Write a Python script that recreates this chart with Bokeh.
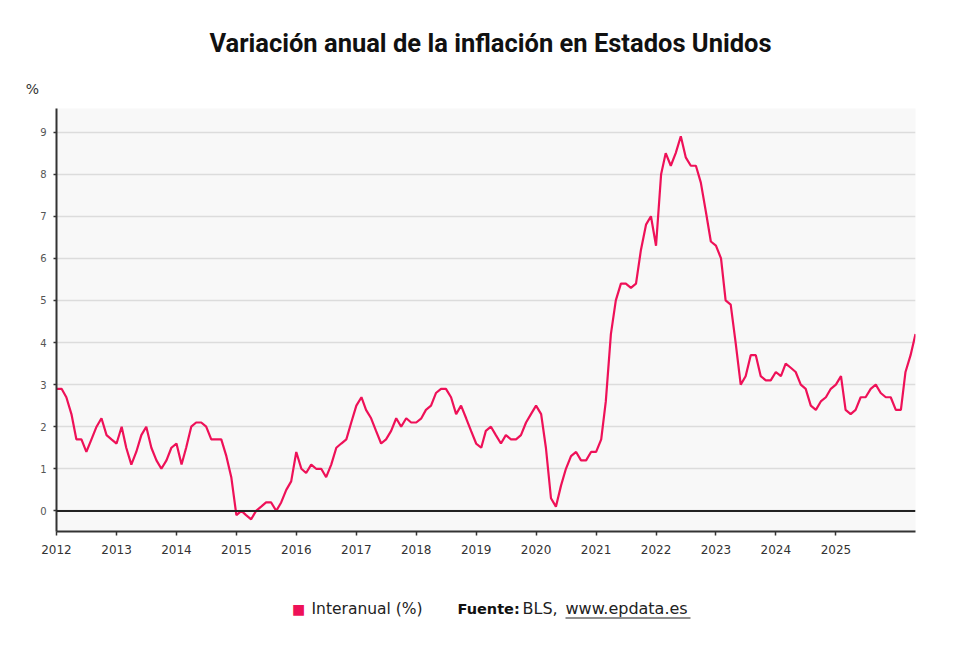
import pandas as pd
from bokeh.plotting import figure
from bokeh.layouts import column
from bokeh.models import (Range1d, FixedTicker, DatetimeTickFormatter, Span, Label,
                          BoxAnnotation, ColumnDataSource)
from bokeh.embed import file_html
from bokeh.resources import INLINE

# ---- data (monthly year-on-year CPI change, %) ----
start_month = "2012-01-01"
values = [
    2.9, 2.9, 2.7, 2.3, 1.7, 1.7, 1.4, 1.7, 2.0, 2.2, 1.8, 1.7,   # 2012
    1.6, 2.0, 1.5, 1.1, 1.4, 1.8, 2.0, 1.5, 1.2, 1.0, 1.2, 1.5,   # 2013
    1.6, 1.1, 1.5, 2.0, 2.1, 2.1, 2.0, 1.7, 1.7, 1.7, 1.3, 0.8,   # 2014
    -0.1, 0.0, -0.1, -0.2, 0.0, 0.1, 0.2, 0.2, 0.0, 0.2, 0.5, 0.7,  # 2015
    1.4, 1.0, 0.9, 1.1, 1.0, 1.0, 0.8, 1.1, 1.5, 1.6, 1.7, 2.1,   # 2016
    2.5, 2.7, 2.4, 2.2, 1.9, 1.6, 1.7, 1.9, 2.2, 2.0, 2.2, 2.1,   # 2017
    2.1, 2.2, 2.4, 2.5, 2.8, 2.9, 2.9, 2.7, 2.3, 2.5, 2.2, 1.9,   # 2018
    1.6, 1.5, 1.9, 2.0, 1.8, 1.6, 1.8, 1.7, 1.7, 1.8, 2.1, 2.3,   # 2019
    2.5, 2.3, 1.5, 0.3, 0.1, 0.6, 1.0, 1.3, 1.4, 1.2, 1.2, 1.4,   # 2020
    1.4, 1.7, 2.6, 4.2, 5.0, 5.4, 5.4, 5.3, 5.4, 6.2, 6.8, 7.0,   # 2021
    6.3, 8.0, 8.5, 8.2, 8.5, 8.9, 8.4, 8.2, 8.2, 7.8, 7.1, 6.4,   # 2022
    6.3, 6.0, 5.0, 4.9, 4.0, 3.0, 3.2, 3.7, 3.7, 3.2, 3.1, 3.1,   # 2023
    3.3, 3.2, 3.5, 3.4, 3.3, 3.0, 2.9, 2.5, 2.4, 2.6, 2.7, 2.9,   # 2024
    3.0, 3.2, 2.4, 2.3, 2.4, 2.7, 2.7, 2.9, 3.0, 2.8, 2.7, 2.7,   # 2025
    2.4, 2.4, 3.3, 3.7, 4.2,                                      # 2026
]
year_ticks = list(range(2012, 2026))
y_ticks = list(range(0, 10))
title_text = "Variación anual de la inflación en Estados Unidos"
series_name = "Interanual (%)"

dates = pd.date_range(start_month, periods=len(values), freq="MS")
source = ColumnDataSource(data=dict(date=dates, value=values))

LINE = "#ee1158"
W = 964
H_HEAD, H_MAIN, H_FOOT = 108, 463, 66
FL = 56

def blank(h):
    f = figure(width=W, height=h, x_range=Range1d(0, W), y_range=Range1d(0, h),
               x_axis_type=None, y_axis_type=None, output_backend="svg",
               toolbar_location=None, min_border=0, frame_align=False)
    f.outline_line_color = None
    f.xgrid.grid_line_color = None
    f.ygrid.grid_line_color = None
    f.background_fill_color = "white"
    f.border_fill_color = "white"
    return f

def lab(f, h, px, py, text, size, color="#222222", style="normal", align="left",
        font="DejaVu Sans"):
    f.add_layout(Label(x=px, y=h - py, text=text, text_font=font, text_font_size=size,
                       text_color=color, text_font_style=style, text_align=align,
                       text_baseline="middle"))

# ---- header ----
head = blank(H_HEAD)
lab(head, H_HEAD, 490, 42, title_text, "25.5px", "#111111", "bold", "center", "Roboto")
lab(head, H_HEAD, 32, 88, "%", "14px", "#333333", align="center")

# ---- main chart ----
p = figure(width=W, height=H_MAIN, x_axis_type="datetime", output_backend="svg",
           toolbar_location=None, frame_align=False,
           x_range=Range1d(dates[0], dates[-1]), y_range=Range1d(-0.49, 9.56),
           min_border_left=FL, min_border_right=W - 915, min_border_top=0,
           min_border_bottom=40)
p.outline_line_color = None
p.background_fill_color = "#f8f8f8"
p.border_fill_color = "white"

p.xaxis.ticker = FixedTicker(ticks=[pd.Timestamp(f"{y}-01-01").value / 1e6 for y in year_ticks])
p.xaxis.formatter = DatetimeTickFormatter(years="%Y", months="%Y", days="%Y")
p.yaxis.ticker = FixedTicker(ticks=y_ticks)
for ax in (p.xaxis[0], p.yaxis[0]):
    ax.axis_line_color = "#333333"
    ax.axis_line_width = 2
    ax.major_tick_line_color = "#333333"
    ax.major_tick_line_width = 1.5
    ax.minor_tick_line_color = None
    ax.major_tick_in = 0
    ax.major_label_text_font = "DejaVu Sans"
p.xaxis.major_tick_out = 4
p.yaxis.major_tick_out = 3
p.xaxis.major_label_text_font_size = "12px"
p.xaxis.major_label_text_color = "#333333"
p.xaxis.major_label_standoff = 9
p.yaxis.major_label_text_font_size = "10px"
p.yaxis.major_label_text_color = "#555555"
p.yaxis.major_label_standoff = 7

p.xgrid.grid_line_color = None
p.ygrid.grid_line_color = "#dcdcdc"
p.ygrid.grid_line_width = 1.5

p.add_layout(Span(location=0, dimension="width", line_color="#222222", line_width=2))
p.line("date", "value", source=source, line_color=LINE, line_width=2.2)

# ---- footer (legend + source) ----
foot = blank(H_FOOT)
FY0 = H_HEAD + H_MAIN   # page y where footer starts
def flab(px, py, *a, **k):
    lab(foot, H_FOOT, px, py - FY0, *a, **k)
flab(298, 608, "■", "14px", LINE, align="center")
flab(311, 608, series_name, "15.5px", "#222222")
flab(457, 608, "Fuente:", "14.5px", "#111111", "bold")
flab(522, 608, "BLS,", "16px", "#222222")
flab(565, 608, "www.epdata.es", "16px", "#222222")
foot.add_layout(BoxAnnotation(left=565, right=690, bottom=H_FOOT - (618 - FY0),
                              top=H_FOOT - (617 - FY0), fill_color="#222222",
                              fill_alpha=1, line_color=None))

layout = column(head, p, foot, spacing=0)
open("out.html", "w").write(file_html(layout, INLINE))
